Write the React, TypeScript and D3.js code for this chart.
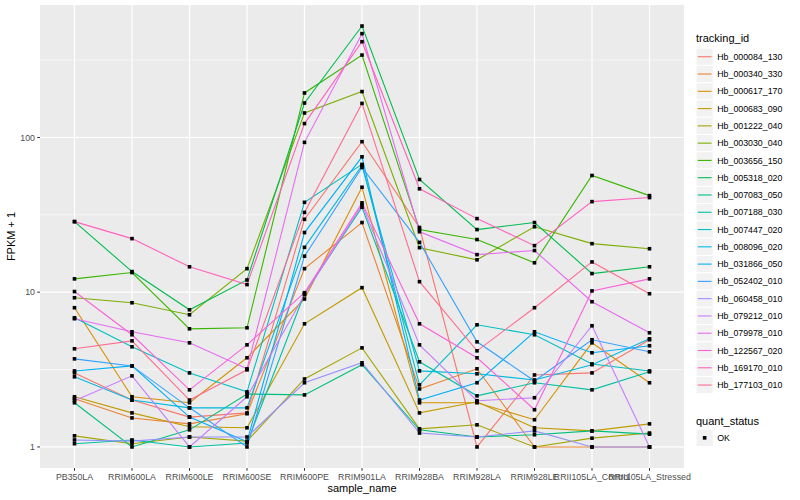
import * as d3 from 'd3'

const sampleNames = [
  'PB350LA', 'RRIM600LA', 'RRIM600LE', 'RRIM600SE', 'RRIM600PE', 'RRIM901LA',
  'RRIM928BA', 'RRIM928LA', 'RRIM928LE', 'RRII105LA_Control', 'RRII105LA_Stressed',
]

const trackingIds = [
  'Hb_000084_130', 'Hb_000340_330', 'Hb_000617_170', 'Hb_000683_090', 'Hb_001222_040',
  'Hb_003030_040', 'Hb_003656_150', 'Hb_005318_020', 'Hb_007083_050', 'Hb_007188_030',
  'Hb_007447_020', 'Hb_008096_020', 'Hb_031866_050', 'Hb_052402_010', 'Hb_060458_010',
  'Hb_079212_010', 'Hb_079978_010', 'Hb_122567_020', 'Hb_169170_010', 'Hb_177103_010',
]

// ggplot default hue palette, 20 levels
const hueColors = [
  '#F8766D', '#EA8331', '#D89000', '#C09B00', '#A3A500', '#7CAE00', '#39B600', '#00BB4E',
  '#00BF7D', '#00C1A3', '#00BFC4', '#00BAE0', '#00B0F6', '#35A2FF', '#9590FF', '#C77CFF',
  '#E76BF3', '#FA62DB', '#FF62BC', '#FF6C91',
]

// FPKM + 1, one value per sample (sampleNames order)
const hb000084_130 = [3.01, 2.01, 1.56, 1.66, 29.6, 94, 26.2, 1.0, 2.92, 3.01, 4.93]
const hb000340_330 = [2.05, 1.54, 1.41, 1.64, 14.2, 28.2, 2.37, 3.2, 1.0, 1.0, 1.0]
const hb000617_170 = [7.94, 2.11, 1.93, 3.77, 9.04, 47.7, 1.93, 1.93, 1.5, 4.71, 2.6]
const hb000683_090 = [2.11, 1.66, 1.35, 1.33, 6.25, 10.7, 1.66, 1.96, 1.33, 1.27, 1.41]
const hb001222_040 = [1.18, 1.05, 1.16, 1.09, 2.75, 4.37, 1.31, 1.39, 1.0, 1.14, 1.23]
const hb003030_040 = [9.21, 8.55, 7.15, 14.2, 144, 198, 19.4, 16.2, 26.5, 20.6, 19.1]
const hb003656_150 = [12.2, 13.4, 5.8, 5.89, 194, 341, 25.4, 21.9, 15.5, 56.8, 42.1]
const hb005318_020 = [28.6, 13.6, 7.7, 12.0, 167, 525, 53.5, 25.4, 28.2, 13.2, 14.6]
const hb007083_050 = [1.93, 1.0, 1.29, 2.2, 2.17, 3.4, 1.29, 1.16, 1.2, 1.27, 1.21]
const hb007188_030 = [1.05, 1.11, 1.0, 1.06, 9.78, 35.4, 3.55, 2.14, 2.6, 2.34, 3.06]
const hb007447_020 = [6.84, 4.44, 3.01, 2.27, 38.1, 67, 2.52, 6.16, 5.31, 3.44, 3.1]
const hb008096_020 = [2.84, 2.01, 1.79, 1.79, 19.5, 66, 3.1, 2.97, 2.71, 3.4, 5.0]
const hb031866_050 = [3.1, 3.34, 1.56, 1.08, 24.3, 75, 2.01, 2.6, 5.55, 4.06, 4.51]
const hb052402_010 = [3.71, 3.34, 1.79, 1.0, 17.1, 64, 21.0, 4.78, 2.67, 4.93, 4.12]
const hb060458_010 = [1.11, 1.09, 1.16, 1.16, 2.6, 3.5, 1.23, 1.16, 1.27, 1.0, 1.0]
const hb079212_010 = [1.99, 2.88, 1.0, 2.11, 9.63, 36.7, 4.57, 1.99, 2.08, 6.07, 1.0]
const hb079978_010 = [6.74, 5.55, 4.71, 3.2, 93, 469, 24.6, 17.5, 18.6, 8.68, 5.47]
const hb122567_020 = [10.1, 5.31, 2.34, 4.57, 9.93, 37.8, 6.25, 3.77, 1.74, 10.2, 12.2]
const hb169170_010 = [28.6, 22.2, 14.6, 11.2, 123, 416, 46.6, 29.9, 20.0, 38.5, 40.9]
const hb177103_010 = [4.31, 4.85, 2.01, 3.15, 32.8, 166, 11.7, 4.18, 7.94, 15.7, 9.78]

const seriesValues = [
  hb000084_130, hb000340_330, hb000617_170, hb000683_090, hb001222_040,
  hb003030_040, hb003656_150, hb005318_020, hb007083_050, hb007188_030,
  hb007447_020, hb008096_020, hb031866_050, hb052402_010, hb060458_010,
  hb079212_010, hb079978_010, hb122567_020, hb169170_010, hb177103_010,
]

const yTicks = [1, 10, 100]
const quantStatus = ['OK']

const W = 800
const H = 500
const panel = { left: 40, right: 684, top: 5, bottom: 468 }
const font = '"Liberation Sans", Arial, Helvetica, sans-serif'

export default function App() {
  const x = d3.scalePoint<string>().domain(sampleNames).range([panel.left, panel.right]).padding(0.6)

  const all = seriesValues.flat()
  const lo = Math.log10(d3.min(all) ?? 1)
  const hi = Math.log10(d3.max(all) ?? 10)
  const pad = (hi - lo) * 0.05
  const y = d3.scaleLog().domain([10 ** (lo - pad), 10 ** (hi + pad)]).range([panel.bottom, panel.top])

  // minor breaks sit halfway between majors in log space
  const majors = [...yTicks, yTicks[yTicks.length - 1] * 10]
  const minors = majors.slice(0, -1).map((t, i) => Math.sqrt(t * majors[i + 1]))
    .filter((v) => v >= y.domain()[0] && v <= y.domain()[1])

  const line = d3.line<number>()
    .x((_, i) => x(sampleNames[i]) ?? 0)
    .y((d) => y(d))

  const keySize = 17.28
  const legendX = 696
  const keysTop = 48.1
  const qsTitleY = keysTop + trackingIds.length * keySize + 31

  return (
    <svg width={W} height={H} style={{ position: 'absolute', left: 0, top: 0 }} fontFamily={font}>
      <rect width={W} height={H} fill="#ffffff" />
      <rect x={panel.left} y={panel.top} width={panel.right - panel.left} height={panel.bottom - panel.top} fill="#EBEBEB" />

      {minors.map((v) => (
        <line key={`mn${v}`} x1={panel.left} x2={panel.right} y1={y(v)} y2={y(v)} stroke="#ffffff" strokeWidth={0.6} />
      ))}
      {yTicks.map((v) => (
        <line key={`mj${v}`} x1={panel.left} x2={panel.right} y1={y(v)} y2={y(v)} stroke="#ffffff" strokeWidth={1.2} />
      ))}
      {sampleNames.map((s) => (
        <line key={`vx${s}`} x1={x(s)} x2={x(s)} y1={panel.top} y2={panel.bottom} stroke="#ffffff" strokeWidth={1.2} />
      ))}

      {seriesValues.map((vals, i) => (
        <path key={trackingIds[i]} d={line(vals) ?? ''} fill="none" stroke={hueColors[i]} strokeWidth={1.1} />
      ))}

      {seriesValues.map((vals, i) =>
        vals.map((v, j) => (
          <rect key={`p${i}-${j}`} x={(x(sampleNames[j]) ?? 0) - 1.8} y={y(v) - 1.8} width={3.6} height={3.6} fill="#000000" />
        )),
      )}

      {/* y axis */}
      {yTicks.map((v) => (
        <g key={`yt${v}`}>
          <line x1={panel.left - 2.75} x2={panel.left} y1={y(v)} y2={y(v)} stroke="#333333" strokeWidth={1} />
          <text x={panel.left - 5} y={y(v) + 3.1} textAnchor="end" fontSize={8.8} fill="#4D4D4D">{v}</text>
        </g>
      ))}
      {/* x axis */}
      {sampleNames.map((s) => (
        <g key={`xt${s}`}>
          <line x1={x(s)} x2={x(s)} y1={panel.bottom} y2={panel.bottom + 2.75} stroke="#333333" strokeWidth={1} />
          <text x={x(s)} y={panel.bottom + 12} textAnchor="middle" fontSize={8.8} fill="#4D4D4D">{s}</text>
        </g>
      ))}

      <text x={(panel.left + panel.right) / 2} y={492} textAnchor="middle" fontSize={11} fill="#000000">sample_name</text>
      <text transform={`translate(15,${(panel.top + panel.bottom) / 2}) rotate(-90)`} textAnchor="middle" fontSize={11} fill="#000000">FPKM + 1</text>

      {/* legend: tracking_id */}
      <text x={legendX} y={keysTop - 6} fontSize={11} fill="#000000">tracking_id</text>
      {trackingIds.map((id, i) => {
        const ky = keysTop + i * keySize
        return (
          <g key={`lg${id}`}>
            <rect x={legendX} y={ky} width={keySize} height={keySize} fill="#F2F2F2" stroke="#ffffff" strokeWidth={1} />
            <line x1={legendX + 1.7} x2={legendX + keySize - 1.7} y1={ky + keySize / 2} y2={ky + keySize / 2} stroke={hueColors[i]} strokeWidth={1.1} />
            <text x={legendX + keySize + 4} y={ky + keySize / 2 + 3.1} fontSize={8.8} fill="#000000">{id}</text>
          </g>
        )
      })}

      {/* legend: quant_status */}
      <text x={legendX} y={qsTitleY} fontSize={11} fill="#000000">quant_status</text>
      {quantStatus.map((q, i) => {
        const ky = qsTitleY + 4.5 + i * keySize
        return (
          <g key={`qs${q}`}>
            <rect x={legendX} y={ky} width={keySize} height={keySize} fill="#F2F2F2" stroke="#ffffff" strokeWidth={1} />
            <rect x={legendX + keySize / 2 - 1.8} y={ky + keySize / 2 - 1.8} width={3.6} height={3.6} fill="#000000" />
            <text x={legendX + keySize + 4} y={ky + keySize / 2 + 3.1} fontSize={8.8} fill="#000000">{q}</text>
          </g>
        )
      })}
    </svg>
  )
}
